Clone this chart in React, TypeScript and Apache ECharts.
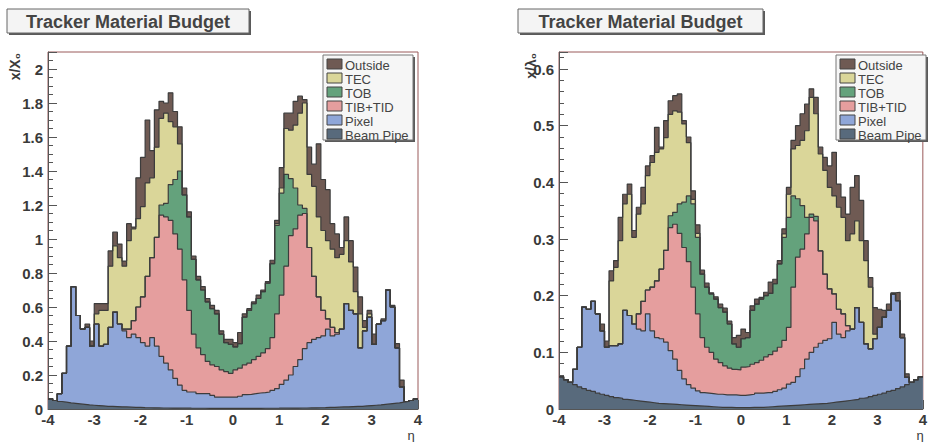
import React, { useEffect, useRef } from "react";
import * as echarts from "echarts";

// ---------- data ----------
// lower edges of the eta bins (width 0.1)
const binEdges = [
  -4.0, -3.9, -3.8, -3.7, -3.6, -3.5, -3.4, -3.3, -3.2, -3.1,
  -3.0, -2.9, -2.8, -2.7, -2.6, -2.5, -2.4, -2.3, -2.2, -2.1,
  -2.0, -1.9, -1.8, -1.7, -1.6, -1.5, -1.4, -1.3, -1.2, -1.1,
  -1.0, -0.9, -0.8, -0.7, -0.6, -0.5, -0.4, -0.3, -0.2, -0.1,
  0.0, 0.1, 0.2, 0.3, 0.4, 0.5, 0.6, 0.7, 0.8, 0.9,
  1.0, 1.1, 1.2, 1.3, 1.4, 1.5, 1.6, 1.7, 1.8, 1.9,
  2.0, 2.1, 2.2, 2.3, 2.4, 2.5, 2.6, 2.7, 2.8, 2.9,
  3.0, 3.1, 3.2, 3.3, 3.4, 3.5, 3.6, 3.7, 3.8, 3.9,
];
const etaMax = 4;

// layers, bottom to top
const layerNames = ["Beam Pipe", "Pixel", "TIB+TID", "TOB", "TEC", "Outside"];
const layerColors = ["#586a7c", "#8fa6d8", "#e59e9e", "#64a27c", "#dad699", "#6f5a53"];

// Cumulative top of each layer (null = layer adds nothing in that bin)
// ---- x/X0 (radiation length) ----
const x0BeamPipe = [
  0.060, 0.050, 0.044, 0.040, 0.036, 0.033, 0.030, 0.027, 0.024, 0.022,
  0.020, 0.018, 0.016, 0.015, 0.014, 0.013, 0.012, 0.011, 0.010, 0.009,
  0.008, 0.0075, 0.007, 0.0065, 0.006, 0.0058, 0.0055, 0.0052, 0.005, 0.0048,
  0.0046, 0.0045, 0.0044, 0.0043, 0.0042, 0.0041, 0.004, 0.004, 0.004, 0.004,
  0.004, 0.004, 0.004, 0.004, 0.0041, 0.0042, 0.0043, 0.0044, 0.0045, 0.0046,
  0.0048, 0.005, 0.0052, 0.0055, 0.0058, 0.006, 0.0065, 0.007, 0.0075, 0.008,
  0.009, 0.010, 0.011, 0.012, 0.013, 0.014, 0.015, 0.016, 0.018, 0.020,
  0.022, 0.024, 0.027, 0.030, 0.033, 0.036, 0.040, 0.044, 0.050, 0.060,
];
const x0PixelTop = [
  null, null, 0.09, 0.21, 0.37, 0.72, 0.55, 0.47, 0.48, 0.37,
  0.50, 0.37, 0.38, 0.48, 0.57, 0.50, 0.46, 0.42, 0.44, 0.42,
  0.39, 0.37, 0.42, 0.37, 0.31, 0.27, 0.23, 0.18, 0.14, 0.11,
  0.10, 0.10, 0.09, 0.09, 0.09, 0.08, 0.07, 0.07, 0.07, 0.07,
  0.07, 0.075, 0.084, 0.086, 0.09, 0.094, 0.096, 0.10, 0.11, 0.12,
  0.145, 0.17, 0.20, 0.25, 0.29, 0.355, 0.39, 0.41, 0.42, 0.43,
  0.47, 0.43, 0.44, 0.47, 0.62, 0.58, 0.56, 0.36, 0.46, 0.54,
  0.38, 0.50, 0.52, 0.70, 0.60, 0.36, 0.13, null, null, null,
];
const x0TibTop = [
  null, null, null, null, null, null, null, null, null, null,
  null, null, null, null, null, null, 0.47, 0.47, 0.52, 0.60,
  0.66, 0.78, 0.89, 1.01, 1.14, 1.13, 1.11, 1.03, 0.94, 0.76,
  0.58, 0.44, 0.36, 0.32, 0.28, 0.26, 0.25, 0.23, 0.22, 0.21,
  0.23, 0.24, 0.26, 0.27, 0.29, 0.31, 0.33, 0.355, 0.42, 0.56,
  0.67, 0.84, 1.02, 1.06, 1.14, 1.15, 0.95, 0.78, 0.66, 0.58,
  0.53, 0.48, 0.45, null, null, null, null, null, null, null,
  null, null, null, null, null, null, null, null, null, null,
];
const x0TobTop = [
  null, null, null, null, null, null, null, null, null, null,
  null, null, null, null, null, null, null, null, null, null,
  null, null, null, null, 1.20, 1.21, 1.32, 1.35, 1.40, 1.26,
  1.13, 0.88, 0.76, 0.70, 0.63, 0.59, 0.56, 0.44, 0.39, 0.38,
  0.365, 0.385, 0.54, 0.58, 0.62, 0.65, 0.69, 0.74, 0.855, 1.08,
  1.27, 1.38, 1.355, 1.30, 1.20, 1.18, null, null, null, null,
  null, null, null, null, null, null, null, null, null, null,
  null, null, null, null, null, null, null, null, null, null,
];
const x0TecTop = [
  null, null, null, null, null, null, null, null, null, null,
  0.56, 0.58, 0.58, 0.84, 0.96, 0.89, 0.84, 0.99, 1.06, 1.12,
  1.19, 1.33, 1.36, 1.54, 1.71, 1.74, 1.69, 1.66, 1.56, null,
  null, null, null, null, null, null, null, null, null, null,
  null, null, null, null, null, null, null, null, null, 1.09,
  1.30, 1.65, 1.64, 1.67, 1.74, 1.80, 1.38, 1.31, 1.13, 1.05,
  0.99, 0.94, 0.89, 0.91, 0.99, 0.865, 0.69, 0.56, 0.48, 0.56,
  null, null, null, null, null, null, null, null, null, null,
];
const x0OutsideTop = [
  null, null, null, null, null, null, null, null, 0.50, 0.40,
  0.62, 0.62, 0.62, 0.93, 1.04, 0.97, 0.87, 1.09, 1.07, 1.36,
  1.48, 1.70, 1.52, 1.76, 1.81, 1.80, 1.86, 1.75, 1.66, 1.30,
  1.16, 0.90, 0.78, 0.72, 0.65, 0.61, 0.58, 0.46, 0.41, 0.41,
  0.39, 0.45, 0.56, 0.59, 0.63, 0.67, 0.70, 0.75, 0.875, 1.11,
  1.42, 1.74, 1.74, 1.81, 1.84, 1.82, 1.54, 1.44, 1.56, 1.35,
  1.29, 1.09, 1.03, 0.95, 1.13, 0.99, 0.835, 0.66, 0.52, 0.58,
  0.44, 0.50, 0.53, 0.70, 0.61, 0.385, 0.17, null, null, null,
];

// ---- x/lambda0 (interaction length) ----
const l0BeamPipe = [
  0.057, 0.052, 0.047, 0.043, 0.039, 0.036, 0.033, 0.031, 0.028, 0.026,
  0.024, 0.022, 0.020, 0.019, 0.017, 0.016, 0.015, 0.014, 0.013, 0.012,
  0.011, 0.010, 0.0095, 0.009, 0.0085, 0.008, 0.0075, 0.007, 0.0065, 0.006,
  0.0055, 0.005, 0.0045, 0.004, 0.0035, 0.003, 0.003, 0.0028, 0.0026, 0.0025,
  0.0025, 0.0026, 0.0028, 0.003, 0.003, 0.0035, 0.004, 0.0045, 0.005, 0.0055,
  0.006, 0.0065, 0.007, 0.0075, 0.008, 0.0085, 0.009, 0.0095, 0.010, 0.011,
  0.012, 0.013, 0.014, 0.015, 0.016, 0.017, 0.019, 0.020, 0.022, 0.024,
  0.026, 0.028, 0.031, 0.033, 0.036, 0.039, 0.043, 0.047, 0.052, 0.057,
];
const l0PixelTop = [
  null, null, null, 0.07, 0.109, 0.18, 0.176, 0.19, 0.168, 0.138,
  0.109, 0.112, 0.112, 0.115, 0.174, 0.165, 0.15, 0.141, 0.138, 0.168,
  0.138, 0.126, 0.124, 0.118, 0.103, 0.088, 0.068, 0.053, 0.043, 0.037,
  0.032, 0.029, 0.028, 0.027, 0.026, 0.026, 0.025, 0.025, 0.025, 0.024,
  0.024, 0.025, 0.026, 0.028, 0.028, 0.029, 0.029, 0.031, 0.034, 0.037,
  0.044, 0.047, 0.057, 0.071, 0.088, 0.10, 0.109, 0.116, 0.121, 0.124,
  0.153, 0.132, 0.126, 0.138, 0.141, 0.179, 0.153, 0.115, 0.106, 0.124,
  0.144, 0.162, 0.174, 0.203, 0.191, 0.126, 0.056, null, null, null,
];
const l0TibTop = [
  null, null, null, null, null, null, null, null, null, null,
  null, null, null, null, null, null, null, 0.168, 0.19, 0.21,
  0.215, 0.226, 0.247, 0.28, 0.32, 0.326, 0.31, 0.285, 0.26, 0.215,
  0.168, 0.126, 0.109, 0.10, 0.088, 0.082, 0.076, 0.072, 0.07, 0.069,
  0.074, 0.075, 0.079, 0.082, 0.086, 0.092, 0.096, 0.102, 0.109, 0.121,
  0.144, 0.215, 0.268, 0.282, 0.309, 0.338, 0.332, 0.279, 0.238, 0.212,
  0.203, 0.176, 0.168, 0.147, null, null, null, null, null, null,
  null, null, null, null, null, null, null, null, null, null,
];
const l0TobTop = [
  null, null, null, null, null, null, null, null, null, null,
  null, null, null, null, null, null, null, null, null, null,
  null, null, null, null, 0.341, 0.347, 0.362, 0.365, 0.376, 0.362,
  0.303, 0.238, 0.215, 0.203, 0.194, 0.179, 0.171, 0.15, 0.115, 0.109,
  0.124, 0.126, 0.174, 0.185, 0.194, 0.2, 0.204, 0.221, 0.256, 0.303,
  0.338, 0.376, 0.371, 0.359, 0.338, 0.344, 0.34, null, null, null,
  null, null, null, null, null, null, null, null, null, null,
  null, null, null, null, null, null, null, null, null, null,
];
const l0TecTop = [
  null, null, null, null, null, null, null, null, null, null,
  null, 0.226, 0.25, 0.297, 0.362, 0.379, 0.303, 0.344, 0.362, 0.412,
  0.435, 0.453, 0.459, 0.479, 0.52, 0.526, 0.524, 0.503, 0.47, 0.37,
  0.31, null, null, null, null, null, null, null, null, null,
  null, null, null, null, null, null, null, null, null, 0.309,
  0.379, 0.459, 0.465, 0.474, 0.491, 0.55, 0.521, 0.45, 0.421, 0.391,
  0.376, 0.356, 0.338, 0.297, 0.309, 0.332, 0.297, 0.262, 0.215, 0.132,
  null, null, null, null, null, null, null, null, null, null,
];
const l0OutsideTop = [
  null, null, null, null, null, null, null, null, null, 0.15,
  0.12, 0.244, 0.262, 0.338, 0.379, 0.397, 0.315, 0.356, 0.391, 0.429,
  0.447, 0.497, 0.462, 0.509, 0.544, 0.553, 0.556, 0.509, 0.48, 0.385,
  0.325, 0.245, 0.222, 0.205, 0.198, 0.185, 0.178, 0.155, 0.126, 0.13,
  0.141, 0.135, 0.182, 0.194, 0.197, 0.206, 0.224, 0.229, 0.262, 0.318,
  0.391, 0.474, 0.50, 0.521, 0.538, 0.565, 0.55, 0.462, 0.444, 0.429,
  0.453, 0.397, 0.374, 0.344, 0.391, 0.412, 0.368, 0.297, 0.232, 0.179,
  0.176, 0.174, 0.185, 0.205, 0.206, 0.132, 0.062, null, null, null,
];

const xTicks = [-4, -3, -2, -1, 0, 1, 2, 3, 4];
const titleText = "Tracker Material Budget";

// ---------- helpers ----------
const FONT = '"Liberation Sans", Arial, Helvetica, sans-serif';
const TEXT_COLOR = "#3a3a3a";
const OUTLINE = "#3c3c3c";
const FRAME = "#9a5a5a";

type Layer = (number | null)[];

function buildSeries(layers: Layer[], gridIndex: number) {
  const tops: number[][] = [];
  layers.forEach((arr, k) => {
    tops.push(arr.map((v, i) => (v === null ? (k === 0 ? 0 : tops[k - 1][i]) : v)));
  });
  const series: any[] = [];
  for (let k = layers.length - 1; k >= 0; k--) {
    const t = tops[k];
    const data: number[][] = binEdges.map((x, i) => [x, t[i]]);
    data.push([etaMax, t[t.length - 1]]);
    series.push({
      type: "line",
      name: layerNames[k],
      xAxisIndex: gridIndex,
      yAxisIndex: gridIndex,
      step: "end",
      symbol: "none",
      silent: true,
      data,
      lineStyle: { color: OUTLINE, width: 1.2 },
      areaStyle: { color: layerColors[k], opacity: 1 },
    });
  }
  return series;
}

function xAxisCfg(gridIndex: number) {
  return {
    type: "value",
    gridIndex,
    min: xTicks[0],
    max: xTicks[xTicks.length - 1],
    interval: 1,
    axisLine: { show: true, onZero: false, lineStyle: { color: "#555", width: 1 } },
    axisTick: { show: true, inside: true, length: 9, lineStyle: { color: "#555" } },
    minorTick: { show: true, splitNumber: 5, length: 5, lineStyle: { color: "#555" } },
    splitLine: { show: false },
    axisLabel: {
      fontFamily: FONT,
      fontWeight: "bold",
      fontSize: 15,
      lineHeight: 15,
      color: TEXT_COLOR,
      margin: 3,
      formatter: (v: number) => String(Math.round(v)),
    },
  };
}

function yAxisCfg(gridIndex: number, max: number, interval: number, minorSplit: number, lastLabel: number) {
  return {
    type: "value",
    gridIndex,
    min: 0,
    max,
    interval,
    axisLine: { show: true, onZero: false, lineStyle: { color: "#555", width: 1 } },
    axisTick: { show: true, inside: true, length: 9, lineStyle: { color: "#555" } },
    minorTick: { show: true, splitNumber: minorSplit, length: 5, lineStyle: { color: "#555" } },
    splitLine: { show: false },
    axisLabel: {
      fontFamily: FONT,
      fontWeight: "bold",
      fontSize: 15,
      color: TEXT_COLOR,
      margin: 5,
      formatter: (v: number) => (v > lastLabel + 1e-6 ? "" : String(parseFloat(v.toFixed(2)))),
    },
  };
}

function titleBox(x: number, y: number, w: number, h: number) {
  return [
    { type: "rect", shape: { x: x + 2, y: y + 2, width: w, height: h }, style: { fill: "#5a5a5a" }, z: 10 },
    { type: "rect", shape: { x, y, width: w, height: h }, style: { fill: "#f4f4f4", stroke: "#666", lineWidth: 1 }, z: 11 },
    {
      type: "text",
      x: x + w / 2,
      y: y + h / 2 + 1,
      z: 12,
      style: {
        text: titleText,
        fontFamily: FONT,
        fontWeight: "bold",
        fontSize: 18,
        fill: "#444",
        align: "center",
        verticalAlign: "middle",
      },
    },
  ];
}

function legendBox(x: number, y: number, w: number, h: number) {
  const els: any[] = [
    { type: "rect", shape: { x: x + 2, y: y + 2, width: w, height: h }, style: { fill: "#5a5a5a" }, z: 10 },
    { type: "rect", shape: { x, y, width: w, height: h }, style: { fill: "#f6f6f6", stroke: "#777", lineWidth: 1 }, z: 11 },
  ];
  const order = [5, 4, 3, 2, 1, 0];
  order.forEach((k, r) => {
    const cy = y + 9 + r * 14;
    els.push({
      type: "rect",
      shape: { x: x + 4, y: cy - 5, width: 15, height: 10 },
      style: { fill: layerColors[k], stroke: "#444", lineWidth: 1 },
      z: 12,
    });
    els.push({
      type: "text",
      x: x + 22,
      y: cy + 1,
      z: 12,
      style: {
        text: layerNames[k],
        fontFamily: FONT,
        fontSize: 13,
        fill: "#444",
        align: "left",
        verticalAlign: "middle",
      },
    });
  });
  return els;
}

function axisTitles() {
  const mk = (text: string, x: number, y: number, rot: number, align: string, size: number, bold: boolean) => ({
    type: "text",
    x,
    y,
    rotation: rot,
    z: 12,
    style: {
      text,
      fontFamily: FONT,
      fontWeight: bold ? "bold" : "normal",
      fontSize: size,
      lineHeight: size,
      fill: TEXT_COLOR,
      align,
      verticalAlign: "middle",
    },
  });
  return [
    mk("x/X\u2080", 15, 53, Math.PI / 2, "right", 14, true),
    mk("x/\u03bb\u2080", 531, 53, Math.PI / 2, "right", 14, true),
    mk("\u03b7", 411, 435, 0, "center", 13, false),
    mk("\u03b7", 920, 435, 0, "center", 13, false),
  ];
}

export default function App() {
  const ref = useRef<HTMLDivElement>(null);
  useEffect(() => {
    if (!ref.current) return;
    const chart = echarts.init(ref.current, undefined, { renderer: "svg" });
    const leftLayers = [x0BeamPipe, x0PixelTop, x0TibTop, x0TobTop, x0TecTop, x0OutsideTop];
    const rightLayers = [l0BeamPipe, l0PixelTop, l0TibTop, l0TobTop, l0TecTop, l0OutsideTop];
    chart.setOption({
      animation: false,
      backgroundColor: "#ffffff",
      grid: [
        { left: 48, top: 52, width: 370, height: 357, show: true, borderColor: FRAME, borderWidth: 1, backgroundColor: "transparent" },
        { left: 559, top: 52, width: 368, height: 357, show: true, borderColor: FRAME, borderWidth: 1, backgroundColor: "transparent" },
      ],
      xAxis: [xAxisCfg(0), xAxisCfg(1)],
      yAxis: [yAxisCfg(0, 2.1, 0.2, 4, 2.0), yAxisCfg(1, 0.63, 0.1, 5, 0.6)],
      series: [...buildSeries(leftLayers, 0), ...buildSeries(rightLayers, 1)],
      graphic: [
        ...titleBox(7, 9, 242, 24),
        ...titleBox(518, 9, 245, 24),
        ...legendBox(323, 55, 90, 85),
        ...legendBox(836, 55, 90, 85),
        ...axisTitles(),
      ],
    });
    return () => chart.dispose();
  }, []);
  return (
    <div
      ref={ref}
      style={{ position: "absolute", left: 0, top: 0, width: 930, height: 442 }}
    />
  );
}
